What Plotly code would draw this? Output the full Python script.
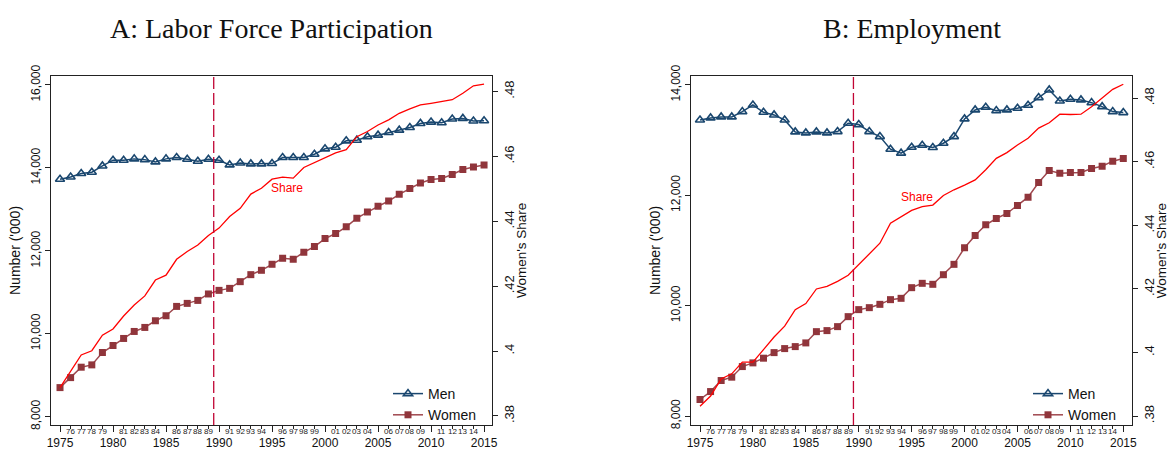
import plotly.graph_objects as go

W, H = 1169, 450

years = list(range(1975, 2016))

# Panel A: Labor force participation ('000)
lf_men = [13727, 13782, 13864, 13896, 14048, 14186, 14186, 14218, 14200, 14145,
          14218, 14250, 14210, 14162, 14210, 14186, 14073, 14120, 14097, 14097,
          14105, 14250, 14250, 14250, 14331, 14460, 14500, 14653, 14669, 14750,
          14790, 14855, 14911, 14976, 15073, 15105, 15089, 15178, 15194, 15130, 15138]
lf_women = [8702, 8943, 9194, 9250, 9548, 9717, 9887, 10056, 10153, 10314,
            10435, 10660, 10733, 10805, 10960, 11047, 11095, 11257, 11426, 11531,
            11676, 11821, 11797, 11966, 12104, 12297, 12418, 12580, 12788, 12934,
            13074, 13202, 13364, 13502, 13637, 13720, 13744, 13840, 13961, 14024, 14073]
lf_share = [0.3887, 0.3937, 0.3988, 0.4001, 0.4049, 0.4068, 0.4108, 0.4142, 0.4170, 0.4219,
            0.4234, 0.4283, 0.4307, 0.4327, 0.4356, 0.4379, 0.4415, 0.4440, 0.4484, 0.4502,
            0.4530, 0.4536, 0.4533, 0.4566, 0.4581, 0.4596, 0.4611, 0.4621, 0.4661, 0.4677,
            0.4697, 0.4713, 0.4733, 0.4747, 0.4759, 0.4764, 0.4769, 0.4775, 0.4795, 0.4818, 0.4823]

# Panel B: Employment ('000)
em_men = [13366, 13403, 13421, 13421, 13517, 13638, 13505, 13457, 13366, 13149,
          13131, 13149, 13131, 13155, 13306, 13282, 13155, 13064, 12836, 12764,
          12872, 12908, 12866, 12944, 13064, 13385, 13548, 13596, 13535, 13548,
          13578, 13632, 13771, 13910, 13710, 13741, 13729, 13680, 13607, 13517, 13499]
em_women = [8299, 8443, 8643, 8704, 8896, 8963, 9048, 9149, 9222, 9258,
            9325, 9529, 9548, 9620, 9801, 9928, 9964, 10024, 10109, 10133,
            10326, 10405, 10387, 10561, 10749, 11050, 11272, 11466, 11580, 11671,
            11816, 11967, 12232, 12449, 12402, 12413, 12413, 12485, 12528, 12619, 12666]
em_share = [0.3831, 0.3863, 0.3917, 0.3933, 0.3970, 0.3970, 0.4009, 0.4049, 0.4083, 0.4135,
            0.4154, 0.4200, 0.4208, 0.4224, 0.4243, 0.4276, 0.4308, 0.4344, 0.4407, 0.4426,
            0.4447, 0.4459, 0.4464, 0.4494, 0.4512, 0.4527, 0.4543, 0.4575, 0.4611, 0.4629,
            0.4653, 0.4674, 0.4706, 0.4723, 0.4750, 0.4749, 0.4750, 0.4773, 0.4800, 0.4828, 0.4844]

titles = ["A: Labor Force Participation", "B: Employment"]
major_years = [1975, 1980, 1985, 1990, 1995, 2000, 2005, 2010, 2015]
minor_years = [y for y in years if y not in major_years]
minor_labels = ["%02d" % (y % 100) for y in minor_years]
num_ticks = [8000, 10000, 12000, 14000, 16000]
share_ticks = [0.38, 0.40, 0.42, 0.44, 0.46, 0.48]
share_labels = [".38", ".4", ".42", ".44", ".46", ".48"]
break_year = 1989.5
share_label_pos = [(1996.4, 0.4503), (1995.5, 0.4488)]

NAVY = "#1a476f"
MAROON = "#90353b"
MAROON_LINE = "#a0484f"
RED = "#ff0000"
DASH = "#c10534"
SANS = "Liberation Sans, Arial, sans-serif"
SERIF = "Liberation Serif, Times New Roman, serif"

def px_x(p):
    return p / W

def px_y(p):
    return 1 - p / H

fig = go.Figure()

panels = [
    dict(men=lf_men, women=lf_women, share=lf_share, x="x", y="y", y2="y2",
         legend="legend", xl=51, xr=492),
    dict(men=em_men, women=em_women, share=em_share, x="x2", y="y3", y2="y4",
         legend="legend2", xl=691, xr=1132.3),
]

for p in panels:
    fig.add_trace(go.Scatter(x=years, y=p["men"], xaxis=p["x"], yaxis=p["y"], name="Men",
                             mode="lines+markers", legend=p["legend"],
                             line=dict(color=NAVY, width=1.5),
                             marker=dict(symbol="triangle-up-open", size=8, color=NAVY,
                                         line=dict(width=1.6, color=NAVY))))
    fig.add_trace(go.Scatter(x=years, y=p["women"], xaxis=p["x"], yaxis=p["y"], name="Women",
                             mode="lines+markers", legend=p["legend"],
                             line=dict(color=MAROON_LINE, width=1.5),
                             marker=dict(symbol="square", size=7, color=MAROON,
                                         line=dict(width=0))))
    fig.add_trace(go.Scatter(x=years, y=p["share"], xaxis=p["x"], yaxis=p["y2"], name="Share",
                             mode="lines", showlegend=False,
                             line=dict(color=RED, width=1.3)))

ydom = [px_y(425), px_y(75.7)]
axis_common = dict(showline=True, linecolor="#222", linewidth=1.2, showgrid=False,
                   zeroline=False, ticks="outside", tickcolor="#222", automargin=False)

fig.update_layout(
    width=W, height=H, margin=dict(l=0, r=0, t=0, b=0, pad=0),
    paper_bgcolor="white", plot_bgcolor="white",
    font=dict(family=SANS, color="#111"),
    xaxis=dict(domain=[px_x(51), px_x(492)], range=[1974.15, 2015.75], anchor="y",
               tickvals=major_years, ticklen=6, tickwidth=1, mirror=True,
               tickfont=dict(size=12), ticklabelstandoff=0,
               minor=dict(tickvals=minor_years, ticklen=3, tickcolor="#222", ticks="outside"),
               **axis_common),
    yaxis=dict(domain=ydom, range=[7800, 16224], anchor="x", tickvals=num_ticks,
               tickformat=",", ticklen=5, tickangle=-90, tickfont=dict(size=12),
               **axis_common),
    yaxis2=dict(domain=ydom, range=[0.3772, 0.4849], anchor="x", overlaying="y", side="right",
                tickvals=share_ticks, ticktext=share_labels, ticklen=5, tickangle=-90,
                tickfont=dict(size=13), **axis_common),
    xaxis2=dict(domain=[px_x(691), px_x(1132.3)], range=[1974.15, 2015.85], anchor="y3",
                tickvals=major_years, ticklen=6, tickwidth=1, mirror=True,
                tickfont=dict(size=12), ticklabelstandoff=0,
                minor=dict(tickvals=minor_years, ticklen=3, tickcolor="#222", ticks="outside"),
                **axis_common),
    yaxis3=dict(domain=ydom, range=[7837, 14168], anchor="x2", tickvals=num_ticks[:-1],
                tickformat=",", ticklen=5, tickangle=-90, tickfont=dict(size=12),
                **axis_common),
    yaxis4=dict(domain=ydom, range=[0.3772, 0.4871], anchor="x2", overlaying="y3", side="right",
                tickvals=share_ticks, ticktext=share_labels, ticklen=5, tickangle=-90,
                tickfont=dict(size=13), **axis_common),
    legend=dict(x=px_x(388), y=px_y(378), xanchor="left", yanchor="top",
                bgcolor="rgba(0,0,0,0)", font=dict(size=14), tracegroupgap=0,
                itemwidth=30),
    legend2=dict(x=px_x(1028), y=px_y(378), xanchor="left", yanchor="top",
                 bgcolor="rgba(0,0,0,0)", font=dict(size=14), tracegroupgap=0,
                 itemwidth=30),
    showlegend=True,
)

annotations = []
for i, p in enumerate(panels):
    xref = p["x"]
    cx = (p["xl"] + p["xr"]) / 2
    annotations.append(dict(text=titles[i], xref="paper", yref="paper", x=px_x(cx), y=px_y(29),
                            showarrow=False, font=dict(family=SERIF, size=28, color="#111"),
                            xanchor="center", yanchor="middle"))
    for yr, lab in zip(minor_years, minor_labels):
        annotations.append(dict(text=lab, xref=xref, yref="paper", x=yr, y=px_y(431.5),
                                showarrow=False, font=dict(size=8, color="#222"),
                                xanchor="center", yanchor="middle", borderpad=0))
    annotations.append(dict(text="Number ('000)", xref="paper", yref="paper",
                            x=px_x(p["xl"] - 36), y=px_y(251), textangle=-90, showarrow=False,
                            font=dict(size=14, color="#111"), xanchor="center", yanchor="middle"))
    annotations.append(dict(text="Women's Share", xref="paper", yref="paper",
                            x=px_x(p["xr"] + 29), y=px_y(251), textangle=-90, showarrow=False,
                            font=dict(size=13.5, color="#111"), xanchor="center", yanchor="middle"))

for (sx, sy), xr, yr in zip(share_label_pos, ["x", "x2"], ["y2", "y4"]):
    annotations.append(dict(text="Share", xref=xr, yref=yr, x=sx, y=sy, showarrow=False,
                            font=dict(size=12, color=RED), xanchor="center", yanchor="middle"))
fig.update_layout(annotations=annotations)

for xr, yr in [("x", "y"), ("x2", "y3")]:
    fig.add_shape(type="line", xref=xr, yref=yr + " domain", x0=break_year, x1=break_year,
                  y0=0, y1=1, line=dict(color=DASH, width=1.3, dash="12px,4px"))

fig.write_html("out.html", config={"displayModeBar": False},
               post_script="document.body.style.margin='0';document.body.style.padding='0';"
                           "document.documentElement.style.overflow='hidden';")
